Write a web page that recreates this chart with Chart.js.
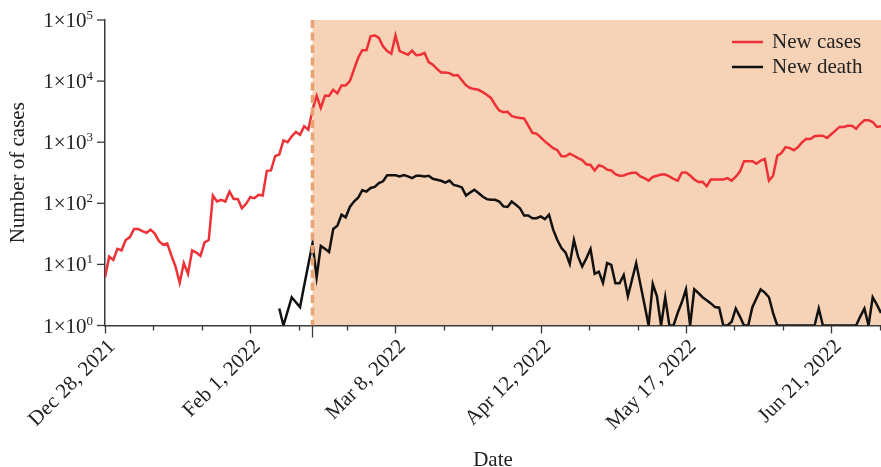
<!DOCTYPE html>
<html>
<head>
<meta charset="utf-8">
<script src="https://cdn.jsdelivr.net/npm/chart.js@4.4.1/dist/chart.umd.min.js"></script>
<style>
  html, body { margin: 0; padding: 0; background: #ffffff; }
  #wrap { width: 881px; height: 467px; position: relative; }
</style>
</head>
<body>
<div id="wrap"><canvas id="chart"></canvas></div>
<script>
// Day 0 = Dec 28, 2021; one value per day.
const dayLabels = ['Dec 28, 2021', 'Feb 1, 2022', 'Mar 8, 2022', 'Apr 12, 2022', 'May 17, 2022', 'Jun 21, 2022'];
const labelStep = 35;          // days between labelled ticks
const eventDay = 50;           // Feb 16, 2022 – start of the shaded period
const lastDay = 187;
const yExponents = ['0', '1', '2', '3', '4', '5'];   // tick labels read as 1×10^e

const newCases = [
  6.1, 13.4, 11.8, 18, 17, 25, 28, 38, 38, 35,
  33, 37, 32, 24, 21, 22, 14, 9.2, 5, 10.5,
  7, 17, 15.6, 13.8, 23, 25, 134, 107, 114, 107,
  155, 118, 118, 83, 98, 126, 121, 138, 134, 340,
  345, 590, 630, 1070, 1000, 1250, 1480, 1320, 1820, 1600,
  3400, 5750, 3640, 5750, 5750, 7200, 6300, 8500, 8500, 10000,
  15500, 24000, 32000, 32000, 54000, 56000, 51000, 37000, 31000, 28000,
  56000, 31000, 29000, 27000, 31600, 26500, 27000, 29000, 20500, 18600,
  15800, 13800, 13800, 13500, 12400, 12600, 10300, 8500, 7700, 7400,
  7200, 6600, 6000, 5300, 4100, 3300, 3100, 3150, 2700, 2550,
  2500, 2450, 1870, 1420, 1380, 1200, 1030, 910, 800, 740,
  590, 590, 650, 600, 550, 510, 435, 425, 345, 420,
  400, 355, 345, 300, 283, 285, 303, 315, 315, 275,
  258, 235, 270, 283, 295, 295, 275, 252, 235, 318,
  320, 285, 245, 223, 225, 190, 245, 245, 245, 245,
  258, 235, 272, 330, 490, 490, 490, 445, 500, 530,
  235, 283, 600, 665, 830, 800, 740, 830, 1000, 1140,
  1130, 1250, 1280, 1280, 1170, 1350, 1550, 1780, 1780, 1860,
  1860, 1660, 2000, 2290, 2290, 2140, 1780, 1820
];

const newDeaths = [
  null, null, null, null, null, null, null, null, null, null,
  null, null, null, null, null, null, null, null, null, null,
  null, null, null, null, null, null, null, null, null, null,
  null, null, null, null, null, null, null, null, null, null,
  null, null, 1.9, 1.0, 1.7, 2.9, 2.4, 2.0, 4.5, 10,
  22, 6.2, 20, 18, 16, 38, 43, 65, 59, 87,
  107, 123, 163, 156, 178, 185, 214, 229, 288, 288,
  288, 276, 290, 276, 258, 283, 283, 276, 283, 252,
  243, 234, 218, 236, 200, 193, 182, 134, 150, 166,
  147, 129, 117, 114, 114, 107, 89, 87, 107, 95,
  83, 63, 63, 57, 57, 61, 55, 65, 37, 25,
  18.5, 15.6, 10.2, 25, 13.4, 9.2, 12.6, 17.8, 7.0, 7.6,
  5.0, 10.5, 9.8, 4.9, 4.9, 6.7, 3.0, 5.6, 10.5, 4.8,
  2.2, 1, 4.8, 3.0, 1, 2.9, 1, 1, 1.6, 2.4,
  3.9, 1, 3.9, 3.4, 2.9, 2.6, 2.3, 2.0, 1.96, 1,
  1, 1.15, 1.9, 1.4, 1, 1, 2.0, 2.8, 3.9, 3.45,
  2.9, 1.6, 1, 1, 1, 1, 1, 1, 1, 1,
  1, 1, 1.9, 1, 1, 1, 1, 1, 1, 1,
  1, 1, 1.4, 1.9, 1, 2.9, 2.2, 1.6
];

const SERIF = '"Liberation Serif", "Times New Roman", serif';
const TEXT = '#222222';
const AXIS = '#3a3a3a';
const SHADE = '#F6D2B7';
const EVENT_LINE = '#E9A372';

const toPoints = arr => arr.map((v, i) => ({ x: i, y: v }));

// Shaded period, event marker, tick marks, power-of-ten labels and the in-plot legend.
const decorations = {
  id: 'decorations',
  beforeDraw(chart) {
    const { ctx, chartArea: a, scales: { x } } = chart;
    const x0 = x.getPixelForValue(eventDay);
    ctx.save();
    ctx.fillStyle = SHADE;
    ctx.fillRect(x0, a.top, a.right - x0, a.bottom - a.top);
    ctx.restore();
  },
  afterDatasetsDraw(chart) {
    const { ctx, chartArea: a, scales: { x } } = chart;
    const x0 = x.getPixelForValue(eventDay);
    ctx.save();
    ctx.strokeStyle = EVENT_LINE;
    ctx.lineWidth = 3.5;
    ctx.setLineDash([8, 4.5]);
    ctx.beginPath();
    ctx.moveTo(x0, a.top);
    ctx.lineTo(x0, a.bottom);
    ctx.stroke();
    ctx.restore();
  },
  afterDraw(chart) {
    const { ctx, chartArea: a, scales: { x, y } } = chart;
    ctx.save();
    ctx.strokeStyle = AXIS;
    ctx.lineWidth = 1.3;
    // x tick marks: long on labelled dates, short in between
    x.ticks.forEach(t => {
      const px = Math.round(x.getPixelForValue(t.value)) + 0.5;
      const major = Math.abs(t.value / labelStep - Math.round(t.value / labelStep)) < 1e-6;
      ctx.beginPath();
      ctx.moveTo(px, a.bottom);
      ctx.lineTo(px, a.bottom + (major ? 8 : 5));
      ctx.stroke();
    });
    const pe = Math.round(x.getPixelForValue(eventDay)) + 0.5;
    ctx.beginPath();
    ctx.moveTo(pe, a.bottom);
    ctx.lineTo(pe, a.bottom + 12);
    ctx.stroke();
    // y tick marks and 1×10^e labels at each decade
    y.ticks.forEach((t, i) => {
      const py = y.getPixelForValue(t.value);
      ctx.strokeStyle = AXIS;
      ctx.lineWidth = 1.3;
      ctx.beginPath();
      ctx.moveTo(a.left - 8, py);
      ctx.lineTo(a.left, py);
      ctx.stroke();
      const base = '1×10';
      const exp = yExponents[i];
      ctx.fillStyle = TEXT;
      ctx.textBaseline = 'alphabetic';
      ctx.textAlign = 'left';
      ctx.font = '13px ' + SERIF;
      const wExp = ctx.measureText(exp).width;
      ctx.font = '21px ' + SERIF;
      const wBase = ctx.measureText(base).width;
      const right = a.left - 12;
      ctx.fillText(base, right - wExp - wBase, py + 7);
      ctx.font = '13px ' + SERIF;
      ctx.fillText(exp, right - wExp, py - 1);
    });
    // legend
    const lx = a.right - 149, ly = a.top + 22;
    chart.data.datasets.forEach((ds, i) => {
      const yy = ly + i * 25;
      ctx.strokeStyle = ds.borderColor;
      ctx.lineWidth = 2.5;
      ctx.beginPath();
      ctx.moveTo(lx, yy);
      ctx.lineTo(lx + 31, yy);
      ctx.stroke();
      ctx.fillStyle = TEXT;
      ctx.font = '21px ' + SERIF;
      ctx.textBaseline = 'middle';
      ctx.textAlign = 'left';
      ctx.fillText(ds.label, lx + 40, yy);
    });
    ctx.restore();
  }
};

new Chart(document.getElementById('chart'), {
  type: 'line',
  data: {
    datasets: [
      {
        label: 'New cases',
        data: toPoints(newCases),
        borderColor: '#EE3136',
        borderWidth: 2.5,
        pointRadius: 0,
        tension: 0,
        fill: false
      },
      {
        label: 'New death',
        data: toPoints(newDeaths),
        borderColor: '#111111',
        borderWidth: 2.5,
        pointRadius: 0,
        tension: 0,
        fill: false,
        spanGaps: false
      }
    ]
  },
  options: {
    responsive: true,
    maintainAspectRatio: false,
    animation: false,
    layout: { padding: { top: 20, right: 0, bottom: 0, left: 0 } },
    plugins: {
      legend: { display: false },
      tooltip: { enabled: false }
    },
    scales: {
      x: {
        type: 'linear',
        min: 0,
        max: lastDay,
        grid: { display: false, drawTicks: false },
        border: { display: true, color: AXIS, width: 1.5 },
        afterBuildTicks(scale) {
          const ticks = [];
          for (let i = 0; i * labelStep / 3 <= lastDay; i++) ticks.push({ value: i * labelStep / 3 });
          scale.ticks = ticks;
        },
        afterFit(scale) {
          scale.height = 141.5;
          scale.paddingLeft = 0;
          scale.paddingRight = 0;
        },
        ticks: {
          autoSkip: false,
          maxRotation: 45,
          minRotation: 45,
          padding: 9,
          labelOffset: 7,
          color: TEXT,
          font: { family: SERIF, size: 21 },
          callback(value) {
            const k = value / labelStep;
            return Math.abs(k - Math.round(k)) < 1e-6 ? (dayLabels[Math.round(k)] || '') : '';
          }
        },
        title: {
          display: true,
          text: 'Date',
          color: TEXT,
          font: { family: SERIF, size: 21, lineHeight: 1 },
          padding: { top: 0, bottom: -4 }
        }
      },
      y: {
        type: 'logarithmic',
        min: 1,
        max: 100000,
        grid: { display: false, drawTicks: false },
        border: { display: true, color: AXIS, width: 1.5 },
        afterBuildTicks(scale) {
          scale.ticks = yExponents.map((_, i) => ({ value: Math.pow(10, i) }));
        },
        afterFit(scale) {
          scale.width = 105;
          scale.paddingTop = 0;
          scale.paddingBottom = 0;
        },
        ticks: { display: false },
        title: {
          display: true,
          text: 'Number of cases',
          color: TEXT,
          font: { family: SERIF, size: 21, lineHeight: 1.2 },
          padding: { top: 6, bottom: 0 }
        }
      }
    }
  },
  plugins: [decorations]
});
</script>
</body>
</html>
